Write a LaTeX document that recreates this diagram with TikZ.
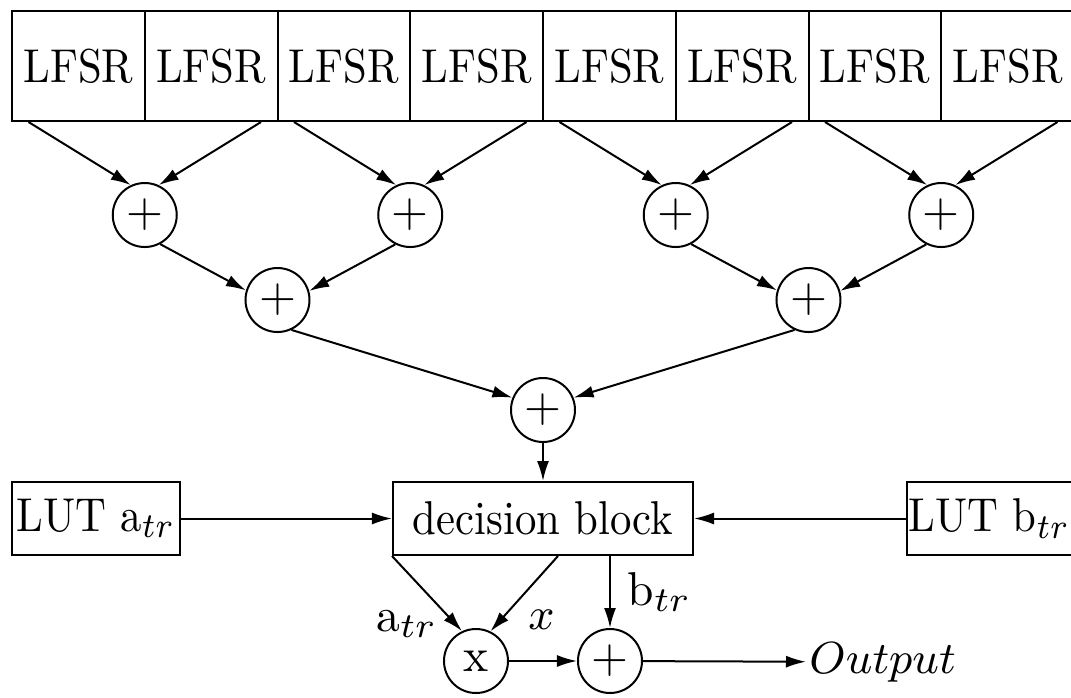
\documentclass[tikz,border=0pt]{standalone}
\usetikzlibrary{arrows.meta, positioning}
\newcommand{\squeezetext}[1]{\scalebox{0.9}[1]{#1}}

\begin{document}
\begin{tikzpicture}[x=0.2pt, y=-0.2pt, >={Latex[length=4pt,width=2.4pt]},
    font=\fontsize{9.5}{11.4}\selectfont,
    lfsrbox/.style={draw, minimum width=26.55pt, minimum height=22pt, inner sep=0pt},
    sumnode/.style={draw, circle, minimum size=12.8pt, inner sep=0pt},
    blockbox/.style={draw, minimum height=14.6pt, inner sep=0.4pt}]
    \useasboundingbox (0,0) rectangle (1071,697);
    % LFSR registers
    \foreach \i in {1,...,8}
        \node[lfsrbox] (r\i) at ({78.4+132.75*(\i-1)},66) {\squeezetext{LFSR}};
    % adder tree
    \node[sumnode] (s1) at (144.75,215) {+};
    \node[sumnode] (s2) at (410.25,215) {+};
    \node[sumnode] (s3) at (675.75,215) {+};
    \node[sumnode] (s4) at (941.25,215) {+};
    \node[sumnode] (t1) at (277.5,300) {+};
    \node[sumnode] (t2) at (808.5,300) {+};
    \node[sumnode] (u) at (543,410) {+};
    \foreach \k/\a/\b in {1/1/2, 2/3/4, 3/5/6, 4/7/8} {
        \draw[->] ([xshift=3.5pt]r\a.south west) -- (s\k.115);
        \draw[->] ([xshift=-3.5pt]r\b.south east) -- (s\k.65);
    }
    \draw[->] (s1.298) -- (t1.163);
    \draw[->] (s2.243) -- (t1.16);
    \draw[->] (s3.298) -- (t2.163);
    \draw[->] (s4.243) -- (t2.16);
    \draw[->] (t1.295) -- (u.158);
    \draw[->] (t2.245) -- (u.22);
    % decision stage
    \node[blockbox, minimum width=60pt] (dec) at (543,518.5) {\squeezetext{decision block}};
    \node[blockbox, minimum width=33.6pt, anchor=west] (luta) at (11,518.5) {\squeezetext{LUT a$_{tr}$}};
    \node[blockbox, minimum width=32.5pt, anchor=west] (lutb) at (906,518.5) {\squeezetext{LUT b$_{tr}$}};
    \draw[->] (u) -- (dec);
    \draw[->] (luta) -- (dec);
    \draw[->] (lutb) -- (dec);
    \node[sumnode] (mul) at (476,661) {x};
    \node[sumnode] (add) at (610,661) {+};
    \node[inner sep=0.5pt, anchor=west] (out) at (806,662) {$Output$};
    \draw[->] (dec.south west) -- node[pos=0.9, left] {a$_{tr}$} (mul.115);
    \draw[->] ([xshift=3pt]dec.south) -- node[pos=0.85, right=2pt] {$x$} (mul.64);
    \draw[->] (add |- dec.south) -- node[right] {b$_{tr}$} (add);
    \draw[->] (mul) -- (add);
    \draw[->] (add) -- (out);
\end{tikzpicture}
\end{document}
